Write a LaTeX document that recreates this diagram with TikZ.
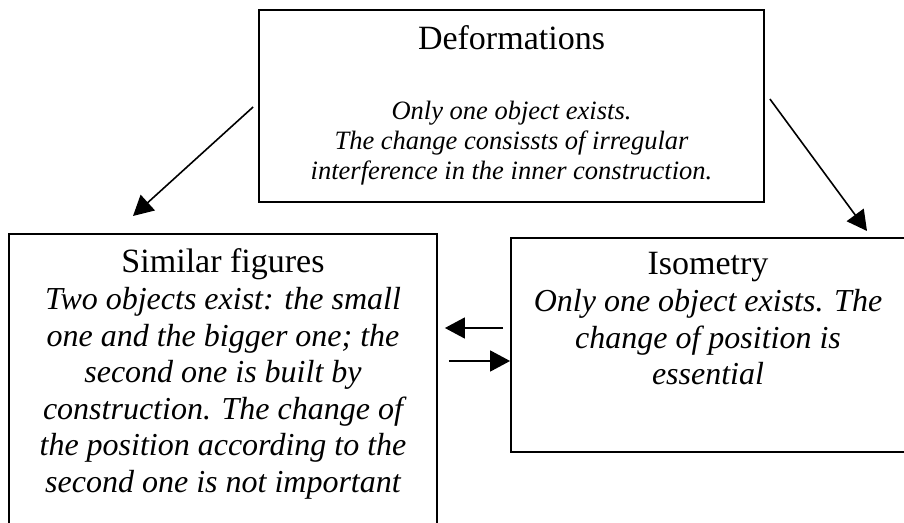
\documentclass[tikz,border=0pt]{standalone}
\usepackage{fontspec}
\setmainfont{Liberation Serif}
\usetikzlibrary{arrows.meta,positioning}

\begin{document}
\begin{tikzpicture}[x=0.5pt, y=-0.5pt,
        panel/.style={rectangle, draw, line width=0.9pt, inner sep=0pt},
        heading/.style={anchor=base, inner sep=0pt, font=\fontsize{17}{20}\selectfont},
        remark/.style={anchor=base, inner sep=0pt, align=center, font=\fontsize{16}{18.25}\selectfont\itshape},
        link/.style={draw, line width=0.8pt, -{Triangle[length=10pt, width=10.5pt]}}]

        \clip (0,0) rectangle (904,523);

        \node[panel, minimum width=252.5pt, minimum height=96pt] (deform) at (511.5,106) {};
        \node[panel, minimum width=214pt, minimum height=153pt] (similar) at (223,387) {};
        \node[panel, minimum width=198.5pt, minimum height=107pt] (iso) at (709.5,345) {};

        % base of a remark node = baseline of its last line
        \node[heading] (deformtitle) at (511.5,50) {Deformations};
        \node[remark, font=\fontsize{13.25}{15}\selectfont\itshape] (deformtext) at (511.5,180)
            {Only one object exists.\\ The change consissts of  irregular\\ interference in the inner construction.};

        \node[heading] (similartitle) at (223,273) {Similar figures};
        \node[remark] (similartext) at (223,492)
            {Two objects exist: the small\\ one and the bigger one;  the\\ second one is built by\\ construction. The change of\\ the position according to the\\ second one  is not important};

        \node[heading] (isotitle) at (708,275) {Isometry};
        \node[remark] (isotext) at (708,385)
            {Only one object exists. The\\ change of position is\\ essential};

        \coordinate (simtip) at (133,216);
        \coordinate (isotip) at (867,231);

        \draw[link] ([shift={(-5,1)}]deform.west) -- (simtip);
        \draw[link] ([shift={(5,-7)}]deform.east) -- (isotip);
        \draw[link] ([shift={(-7,-17)}]iso.west) -- ([shift={(7,-59)}]similar.east);
        \draw[link] ([shift={(11,-26)}]similar.east) -- ([shift={(0,16)}]iso.west);

    \end{tikzpicture}
\end{document}
